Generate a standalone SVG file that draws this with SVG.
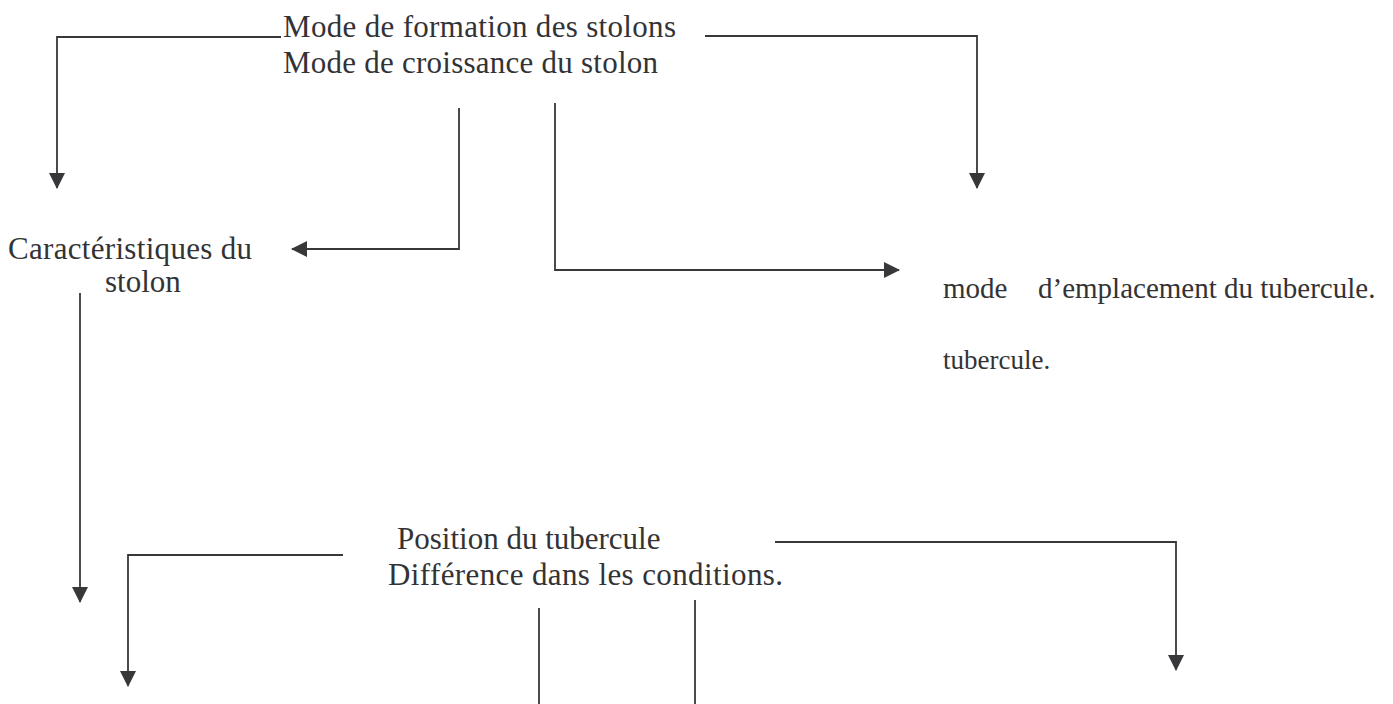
<svg xmlns="http://www.w3.org/2000/svg" width="1393" height="704" viewBox="0 0 1393 704">
  <style>
    text { font-family: "Liberation Serif", "Times New Roman", Times, serif; fill: #333336; }
    .lbl { font-size: 31px; }
    .sm { font-size: 29px; }
    .xs { font-size: 27px; }
    .wire { fill: none; stroke: #38383b; stroke-width: 1.8; }
  </style>
  <defs>
    <marker id="arr" viewBox="0 0 16 16" refX="15" refY="8" markerWidth="16" markerHeight="16" markerUnits="userSpaceOnUse" orient="auto">
      <path d="M0,0 L16,8 L0,16 Z" fill="#38383b"/>
    </marker>
  </defs>

  <rect width="1393" height="704" fill="#ffffff"/>

  <g id="connectors">
    <polyline class="wire" points="281,37 57,37 57,188" marker-end="url(#arr)"/>
    <polyline class="wire" points="705,36 977,36 977,188" marker-end="url(#arr)"/>
    <polyline class="wire" points="459,108 459,249 292,249" marker-end="url(#arr)"/>
    <polyline class="wire" points="555,103 555,270 899,270" marker-end="url(#arr)"/>
    <polyline class="wire" points="80,293 80,602" marker-end="url(#arr)"/>
    <polyline class="wire" points="343,555 128,555 128,686" marker-end="url(#arr)"/>
    <polyline class="wire" points="775,542 1176,542 1176,670" marker-end="url(#arr)"/>
    <line class="wire" x1="539" y1="608" x2="539" y2="704"/>
    <line class="wire" x1="695" y1="600" x2="695" y2="704"/>
  </g>

  <g id="node-stolon-formation">
    <text class="lbl" x="283" y="37" textLength="393">Mode de formation des stolons</text>
    <text class="lbl" x="283" y="73" textLength="375">Mode de croissance du stolon</text>
  </g>

  <g id="node-caracteristiques">
    <text class="lbl" x="8" y="259" textLength="244">Caractéristiques du</text>
    <text class="lbl" x="105" y="292">stolon</text>
  </g>

  <g id="node-emplacement">
    <text class="sm" y="298"><tspan x="943">mode</tspan><tspan x="1038">d’emplacement du tubercule.</tspan></text>
  </g>

  <g id="node-tubercule">
    <text class="xs" x="943" y="369">tubercule.</text>
  </g>

  <g id="node-position">
    <text class="lbl" x="397" y="549">Position du tubercule</text>
    <text class="lbl" x="388" y="585" textLength="395">Différence dans les conditions.</text>
  </g>
</svg>
